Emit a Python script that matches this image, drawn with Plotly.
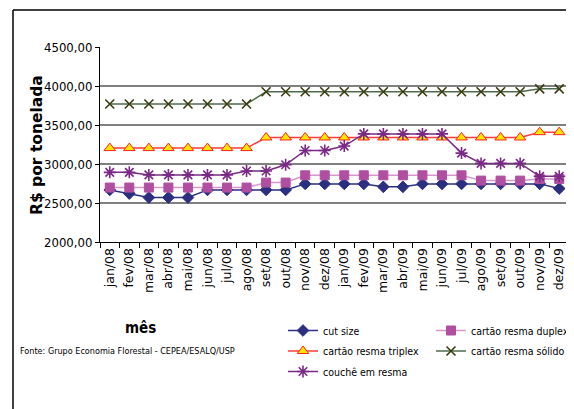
import plotly.graph_objects as go

months = ["jan/08", "fev/08", "mar/08", "abr/08", "mai/08", "jun/08", "jul/08", "ago/08",
          "set/08", "out/08", "nov/08", "dez/08", "jan/09", "fev/09", "mar/09", "abr/09",
          "mai/09", "jun/09", "jul/09", "ago/09", "set/09", "out/09", "nov/09", "dez/09"]

cut_size = [2668, 2621, 2570, 2570, 2570, 2668, 2668, 2668, 2668, 2668, 2745, 2745,
            2745, 2745, 2707, 2707, 2745, 2745, 2745, 2745, 2745, 2745, 2745, 2685]
duplex = [2698, 2698, 2698, 2698, 2698, 2698, 2698, 2698, 2762, 2762, 2855, 2855,
          2855, 2855, 2855, 2855, 2855, 2855, 2855, 2787, 2787, 2787, 2808, 2808]
triplex = [3204, 3204, 3204, 3204, 3204, 3204, 3204, 3204, 3340, 3340, 3340, 3340,
           3340, 3340, 3340, 3340, 3340, 3340, 3340, 3340, 3340, 3340, 3408, 3408]
solido = [3769, 3769, 3769, 3769, 3769, 3769, 3769, 3769, 3926, 3926, 3926, 3926,
          3926, 3926, 3926, 3926, 3926, 3926, 3926, 3926, 3926, 3926, 3964, 3964]
couche = [2893, 2893, 2860, 2860, 2860, 2860, 2860, 2910, 2910, 2990, 3173, 3173,
          3230, 3386, 3386, 3386, 3386, 3386, 3140, 3008, 3008, 3008, 2842, 2842]

y_ticks = [2000, 2500, 3000, 3500, 4000, 4500]

narrow = "DejaVu Sans Condensed, Liberation Sans Narrow, Arial Narrow, Liberation Sans"
wide = "DejaVu Sans, Verdana, sans-serif"

# page offset of the default body margin (8px)
OFF = 8


def px(p):
    return (p - 100) / 469


def py(p):
    return (242 - p) / 195


fig = go.Figure()

series = [
    ("cut size", cut_size, "#2B2F7F", "#2B2F7F", "diamond", 9, "#2B2F7F", "legend"),
    ("cartão resma duplex", duplex, "#D996CC", "#B04FA0", "square", 9, "#B04FA0", "legend2"),
    ("cartão resma triplex", triplex, "#FF3B3B", "#FFE500", "triangle-up", 10, "#FF2020", "legend"),
    ("cartão resma sólido", solido, "#4E6B4E", "#3A3A10", "x-thin-open", 9, "#3A3A10", "legend2"),
    ("couchê em resma", couche, "#7A2A86", "#7A2A86", "asterisk-open", 10, "#7A2A86", "legend"),
]

for name, vals, lcol, mcol, sym, size, mline, leg in series:
    fig.add_trace(go.Scatter(
        x=months, y=vals, name=name, mode="lines+markers",
        line=dict(color=lcol, width=1.5),
        marker=dict(symbol=sym, size=size, color=mcol,
                    line=dict(color=mline, width=1.6 if ("open" in sym) else 1)),
        legend=leg, legendgroup=name,
    ))

fig.update_layout(
    width=574, height=409,
    margin=dict(l=100 - OFF, r=574 - 569 + OFF, t=47 - OFF, b=409 - 242 + OFF, autoexpand=False),
    paper_bgcolor="white", plot_bgcolor="white",
    separators=",.",
    showlegend=True,
    font=dict(family=narrow, color="black"),
    xaxis=dict(
        type="category", categoryorder="array", categoryarray=months,
        tickangle=-90, tickfont=dict(family=wide, size=12.5, color="black"),
        ticks="outside", tickson="boundaries", ticklen=5, tickcolor="black",
        showline=True, linecolor="black", linewidth=1,
        showgrid=False, range=[-0.5, 23.5], automargin=False,
    ),
    yaxis=dict(
        range=[2000, 4500], tickvals=y_ticks, tickformat=".2f",
        tickfont=dict(family=narrow, size=13, color="black"),
        ticks="outside", ticklen=4, tickcolor="black",
        showline=True, linecolor="black", linewidth=1,
        showgrid=True, gridcolor="#808080", gridwidth=2,
        zeroline=False, automargin=False,
    ),
    legend=dict(
        x=px(283), y=py(316),
        xanchor="left", yanchor="top", orientation="v",
        font=dict(family=narrow, size=10.5, color="black"),
        tracegroupgap=1.5, bgcolor="rgba(0,0,0,0)", itemwidth=30,
    ),
    legend2=dict(
        x=px(431), y=py(316),
        xanchor="left", yanchor="top", orientation="v",
        font=dict(family=narrow, size=10.5, color="black"),
        tracegroupgap=1.5, bgcolor="rgba(0,0,0,0)", itemwidth=30,
    ),
    annotations=[
        dict(text="<b>R$ por tonelada</b>", xref="paper", yref="paper", x=px(37), y=py(145),
             showarrow=False, xanchor="center", yanchor="middle", textangle=-90,
             font=dict(family=wide, size=15.5, color="black")),
        dict(text="<b>mês</b>", xref="paper", yref="paper", x=px(140), y=py(328),
             showarrow=False, xanchor="center", yanchor="middle",
             font=dict(family=narrow, size=15, color="black")),
        dict(text="Fonte: Grupo Economia Florestal - CEPEA/ESALQ/USP", xref="paper", yref="paper",
             x=px(18), y=py(351), showarrow=False, xanchor="left", yanchor="middle",
             font=dict(family=narrow, size=9, color="black")),
    ],
    shapes=[
        dict(type="line", xref="paper", yref="paper", x0=px(13), x1=px(13),
             y0=py(430), y1=py(10), line=dict(color="black", width=1.5)),
        dict(type="line", xref="paper", yref="paper", x0=px(13), x1=px(600),
             y0=py(10), y1=py(10), line=dict(color="black", width=1.5)),
    ],
)

fig.write_html("out.html")
